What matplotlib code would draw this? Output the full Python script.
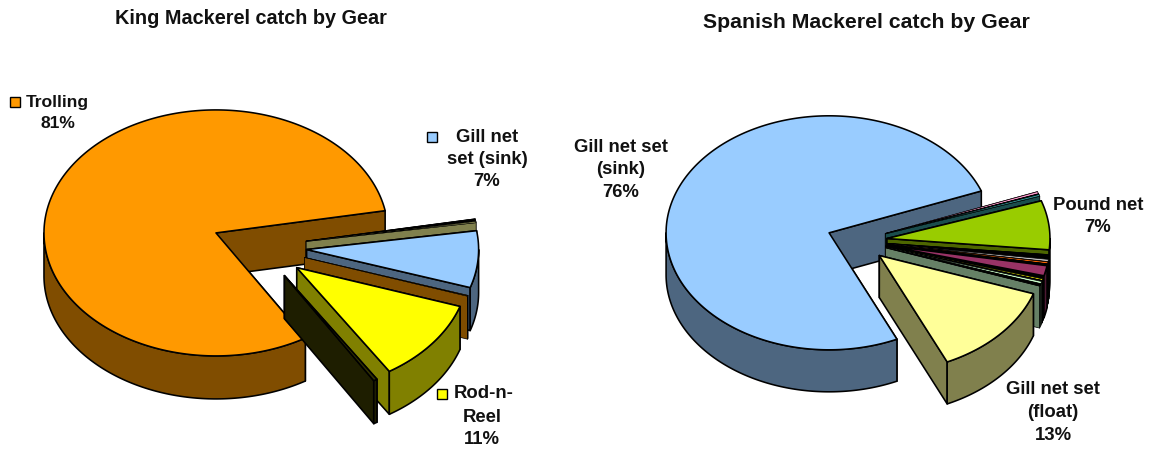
import numpy as np
import matplotlib
matplotlib.use('Agg')
import matplotlib.pyplot as plt
from matplotlib.patches import Polygon, Rectangle

plt.rcParams['font.family'] = ['Liberation Sans', 'DejaVu Sans']

# share of catch in percent, clockwise starting with the big slice
kingValues = [80.8, 0.3, 0.15, 7.45, 0.1, 10.85, 0.35]
kingTops   = ['#FF9900', '#000000', '#FFFF99', '#99CCFF', '#FF9900', '#FFFF00', '#333300']
kingSides  = ['#804D00', '#000000', '#80804D', '#4D6680', '#804D00', '#808000', '#1E1E00']

spanishValues = [75.9, 0.3, 0.05, 0.25, 6.75, 0.3, 0.25, 0.3, 0.25, 0.1, 1.4, 0.25, 0.2, 0.1, 0.3, 0.3, 12.85]
spanishTops   = ['#99CCFF', '#FF99CC', '#000000', '#339999', '#99CC00', '#000000', '#000000', '#C0C0C0', '#FF6600',
                 '#000000', '#993366', '#000000', '#FFFF00', '#000000', '#CCFFCC', '#000000', '#FFFF99']
spanishSides  = ['#4D6680', '#804D66', '#000000', '#1A4D4D', '#4D6600', '#000000', '#000000', '#000000', '#000000',
                 '#000000', '#4D1A33', '#000000', '#000000', '#000000', '#668066', '#668066', '#80804D']

edgeWidth = 1.15
thinEdgeWidth = 0.5
labelSize = 13.3
titleSize = 14.3


def rimPoints(center, rx, ry, a0, a1, drop=0):
    # points on the ellipse between two angles in degrees
    n = max(2, int(abs(a1 - a0) * 2))
    t = np.radians(np.linspace(a0, a1, n))
    return np.column_stack((center[0] + rx * np.cos(t), center[1] - ry * np.sin(t) + drop))


def addPoly(ax, pts, color, lw):
    ax.add_patch(Polygon(pts, closed=True, facecolor=color, edgecolor='black',
                         linewidth=lw, joinstyle='round'))


def drawSlice(ax, apex, rx, ry, depth, a0, a1, top, side):
    apexLow = (apex[0], apex[1] + depth)
    rim = rimPoints(apex, rx, ry, a0, a1)
    # tiny slices would be nothing but outline otherwise
    lw = thinEdgeWidth if a1 - a0 < 1.2 else edgeWidth
    # far cut face first, the near one and the top go over it
    for p in (rim[-1], rim[0]):
        addPoly(ax, [apex, p, (p[0], p[1] + depth), apexLow], side, lw)
    # outer wall, only the front half of the ellipse can be seen
    for lo, hi in ((-540, -360), (-180, 0), (180, 360)):
        b0, b1 = max(a0, lo), min(a1, hi)
        if b1 > b0:
            upper = rimPoints(apex, rx, ry, b0, b1)
            lower = rimPoints(apex, rx, ry, b1, b0, depth)
            addPoly(ax, np.vstack((upper, lower)), side, lw)
    addPoly(ax, np.vstack(([apex], rim)), top, lw)


def drawPie(ax, values, tops, sides, firstAngle, center, rx, ry, depth, explode):
    total = float(sum(values))
    theta = firstAngle
    slices = []
    for v, top, side in zip(values, tops, sides):
        span = 360.0 * v / total
        a0, a1 = theta - span, theta
        theta = a0
        mid = np.radians((a0 + a1) / 2)
        apex = (center[0] + explode * rx * np.cos(mid), center[1] - explode * ry * np.sin(mid))
        slices.append((np.sin(mid), apex, a0, a1, top, side))
    # paint from the back of the pie to the front
    slices.sort(key=lambda s: -s[0])
    for s in slices:
        drawSlice(ax, s[1], rx, ry, depth, s[2], s[3], s[4], s[5])


def addLabel(ax, x, y, lines, step=22.7, size=labelSize):
    for i, line in enumerate(lines):
        ax.text(x, y + i * step, line, ha='center', va='center', fontsize=size, fontweight='bold', color='#111111')


def addKey(ax, x, y, color):
    ax.add_patch(Rectangle((x - 5, y - 5), 10, 10, facecolor=color, edgecolor='black', linewidth=1.0))


fig = plt.figure(figsize=(11.53, 4.51), dpi=100)
ax = fig.add_axes([0, 0, 1, 1])
ax.set_xlim(0, 1153)
ax.set_ylim(451, 0)
ax.axis('off')

drawPie(ax, kingValues, kingTops, kingSides, -58.7, (259.3, 246.8), 172, 123, 43, 0.276)
drawPie(ax, spanishValues, spanishTops, spanishSides, -65.4, (857, 241), 163, 117, 42, 0.185)

ax.text(251, 18, 'King Mackerel catch by Gear', ha='center', va='center', fontsize=titleSize, fontweight='bold', color='#111111')
ax.text(866, 22, 'Spanish Mackerel catch by Gear', ha='center', va='center', fontsize=15.3, fontweight='bold', color='#111111')

addKey(ax, 15, 102, '#FF9900')
ax.text(26, 102, 'Trolling', ha='left', va='center', fontsize=12.6, fontweight='bold', color='#111111')
addLabel(ax, 58, 124, ['81%'], size=12.6)

addKey(ax, 432, 137, '#99CCFF')
addLabel(ax, 487, 137, ['Gill net', 'set (sink)', '7%'], step=22.5)

addKey(ax, 442, 394, '#FFFF00')
ax.text(454, 394, 'Rod-n-', ha='left', va='center', fontsize=labelSize, fontweight='bold', color='#111111')
addLabel(ax, 482, 417, ['Reel', '11%'], step=23)

addLabel(ax, 621, 147, ['Gill net set', '(sink)', '76%'])
addLabel(ax, 1098, 205, ['Pound net', '7%'])
addLabel(ax, 1053, 390, ['Gill net set', '(float)', '13%'])

fig.savefig('out.png', dpi=100)
